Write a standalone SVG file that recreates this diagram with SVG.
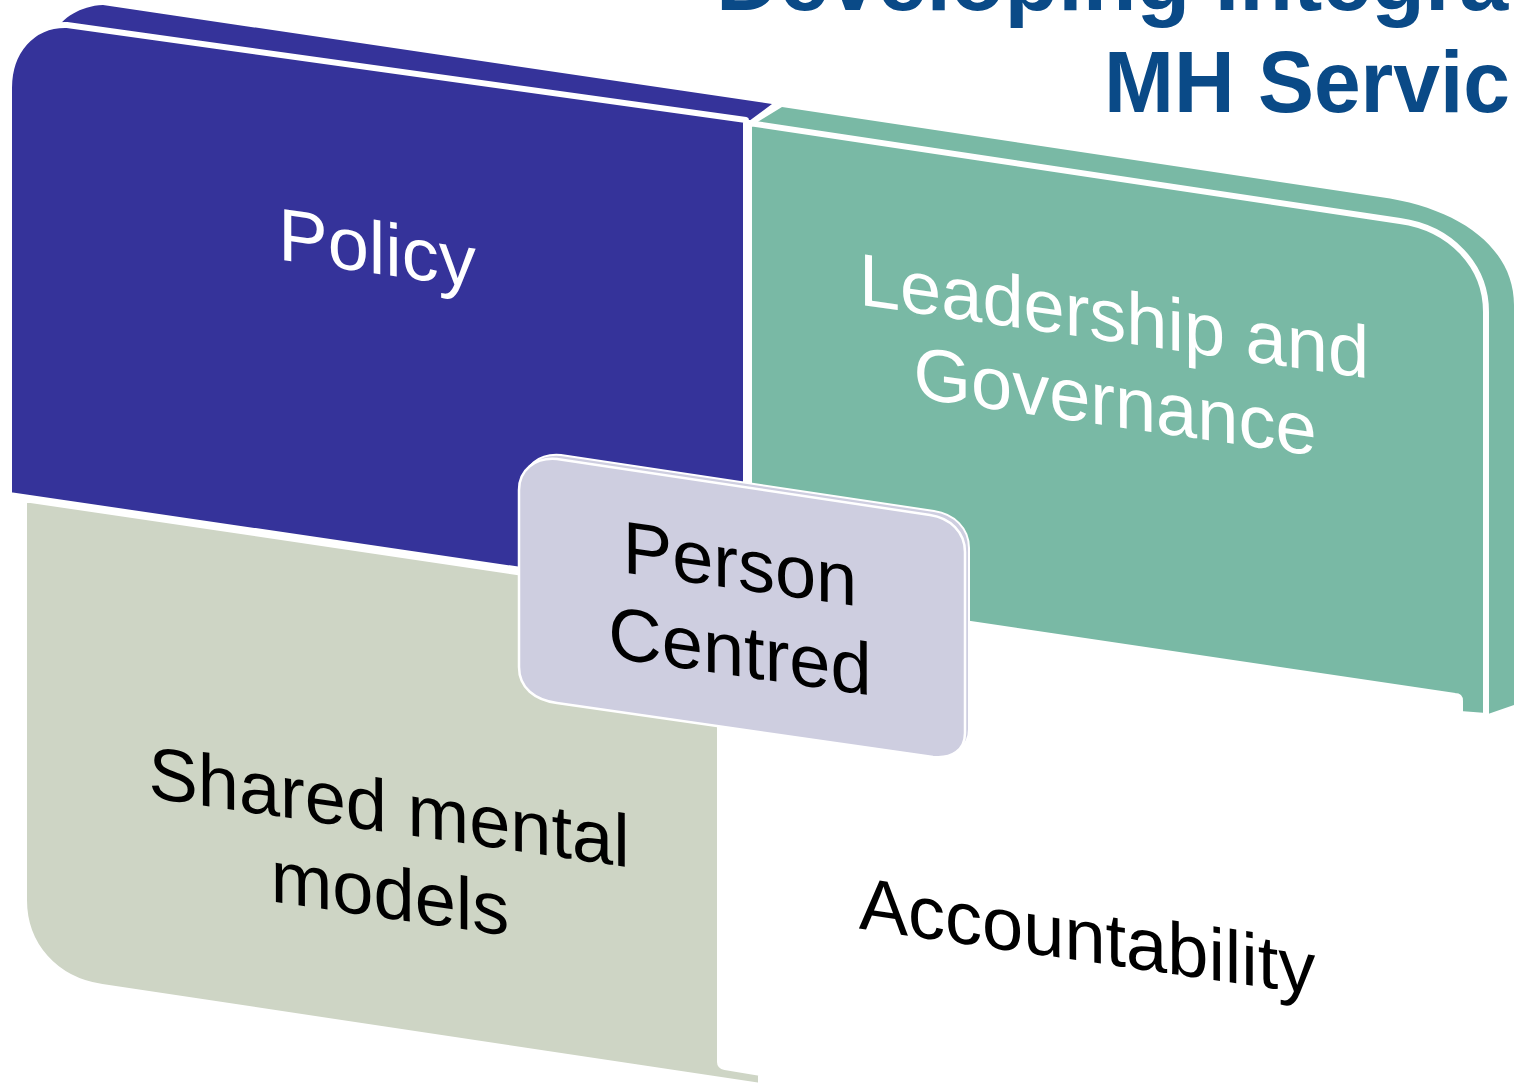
<svg xmlns="http://www.w3.org/2000/svg" width="1514" height="1083" viewBox="0 0 1514 1083">
<style>
.face{stroke:#FFFFFF;stroke-width:6;stroke-linejoin:round}
.lbl{font-family:"Liberation Sans",Arial,sans-serif;font-size:74px;text-anchor:middle}
.w{fill:#FFFFFF}
.k{fill:#000000}
.title{font-family:"Liberation Sans",Arial,sans-serif;font-weight:bold;font-size:88px;fill:#0A4A87}
</style>
<rect width="1514" height="1083" fill="#FFFFFF"/>
<g id="title">
<text class="title" x="716" y="10">Developing Integrat</text>
<text class="title" x="1104" y="112" textLength="406" lengthAdjust="spacingAndGlyphs">MH Servic</text>
</g>
<g id="accountability">
<path d="M722,604 L1458,712 L1458,980 L722,1068 Z" fill="#FFFFFF"/>
<g transform="matrix(1 0.145 0 1 0 0)"><text class="lbl k" x="1087" y="804">Accountability</text></g>
</g>
<g id="policy">
<path d="M55,32 C62,18 80,6 103,5 L772,104 L745,124 L70,28 Z" fill="#35339A"/>
<path class="face" d="M9,495 L9,88 C9,52 32,24 67,25 L746,120 L746,603 Z" fill="#35339A"/>
<g transform="matrix(1 0.145 0 1 0 0)"><text class="lbl w" x="377" y="219">Policy</text></g>
</g>
<g id="leadership">
<path d="M748,128 L782,107 L1380,197 C1460,208 1514,248 1514,305 L1514,705 L1488,714 L1488,300 L1400,224 L760,130 Z" fill="#79B9A5"/>
<path class="face" d="M749,123 L1400,221 C1450,228 1486,265 1486,312 L1486,716 L1460,714 L1460,701 Q1460,696 1455,696 L749,591 Z" fill="#79B9A5"/>
<g transform="matrix(1 0.145 0 1 0 0)">
<text class="lbl w" x="1114" y="180">Leadership and</text>
<text class="lbl w" x="1115" y="265">Governance</text>
</g>
</g>
<g id="shared-mental-models">
<path class="face" d="M24,499 L720,602 L720,1062 Q720,1066 725,1067 L761,1073 L761,1086 L102,987 C55,980 24,945 24,900 Z" fill="#CED5C5"/>
<g transform="matrix(1 0.145 0 1 0 0)">
<text class="lbl k" x="389" y="776">Shared mental</text>
<text class="lbl k" x="390" y="862">models</text>
</g>
</g>
<g id="person-centred">
<path d="M523,486 C523,466 539,453 561,455 L934,511 C954,514 969,528 969,548 L969,729 C969,746 956,755 937,753 L561,699 C539,696 523,684 523,663 Z" fill="#CECEE0" stroke="#FFFFFF" stroke-width="2"/>
<path d="M519,490 C519,470 535,457 557,459 L930,515 C950,518 965,532 965,552 L965,733 C965,750 952,759 933,757 L557,703 C535,700 519,688 519,667 Z" fill="#CECEE0" stroke="#FFFFFF" stroke-width="2.5"/>
<g transform="matrix(1 0.145 0 1 0 0)">
<text class="lbl k" x="740" y="482">Person</text>
<text class="lbl k" x="740" y="569">Centred</text>
</g>
</g>
<g id="connectors"/>
</svg>
